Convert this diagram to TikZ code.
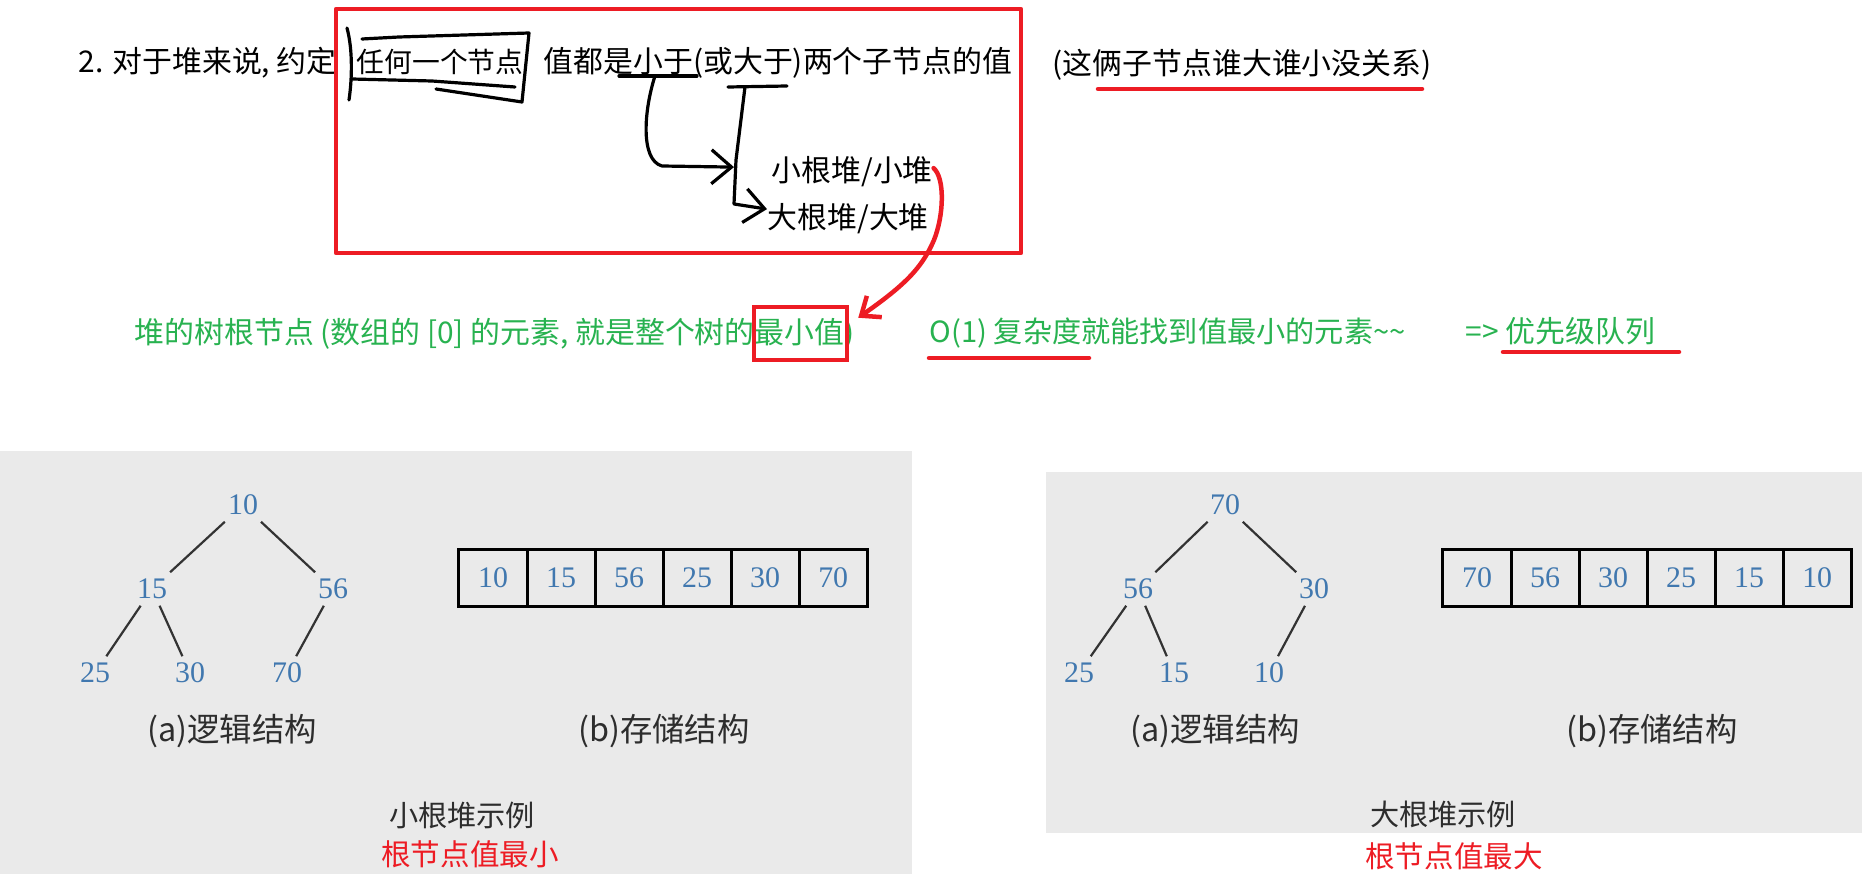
\documentclass[tikz,border=0pt]{standalone}
\usepackage{fontspec}
\setmainfont{Liberation Serif}
\newfontfamily\cjk{Noto Sans CJK SC}
\usetikzlibrary{positioning,arrows.meta}

\definecolor{penred}{RGB}{237,28,36}
\definecolor{notegreen}{RGB}{40,178,80}
\definecolor{panelgray}{RGB}{234,234,234}
\definecolor{numblue}{RGB}{65,120,175}
\definecolor{capgray}{RGB}{45,45,45}

\tikzset{
  txt/.style={font=\cjk\fontsize{8.5}{10}\selectfont, inner sep=0pt, anchor=base west},
  note/.style={txt, text=notegreen},
  pen/.style={penred, line width=0.045cm, line cap=round, line join=round},
  hand/.style={black, line width=0.032cm, line cap=round, line join=round},
  num/.style={text=numblue, font=\fontsize{8.5}{10}\selectfont, inner sep=0.06cm},
  cell/.style={num, draw=black, line width=0.03cm, minimum width=0.68cm, minimum height=0.57cm, outer sep=0pt, inner sep=0pt},
  edge/.style={draw=black!80, line width=0.022cm},
  subcap/.style={font=\cjk\fontsize{9.2}{11}\selectfont, text=capgray, inner sep=0pt},
  heapname/.style={font=\cjk\fontsize{8.3}{10}\selectfont, text=capgray, inner sep=0pt},
  redname/.style={font=\cjk\fontsize{8.4}{10}\selectfont, text=penred, inner sep=0pt}
}

\begin{document}
\begin{tikzpicture}[x=0.01cm,y=-0.01cm]
  \useasboundingbox (0,0) rectangle (1865,891);

  % 灰色底板
  \fill[panelgray] (0,451) rectangle (912,874);
  \fill[panelgray] (1046,472) rectangle (1862,833);

  % 第一行说明
  \node[txt] (rule) at (78,73) {2. 对于堆来说, 约定};
  \node[txt, font=\cjk\fontsize{7.9}{10}\selectfont] (anynode) at (356,73) {任何一个节点};
  \node[txt] (lessthan) at (543,73) {值都是小于(或大于)两个子节点的值};
  \node[txt] (noorder) at (1052,75) {(这俩子节点谁大谁小没关系)};
  \node[txt] (small) at (771,182) {小根堆/小堆};
  \node[txt] (big) at (767,229) {大根堆/大堆};

  % 手写的框和箭头
  \draw[hand] (347,28) .. controls (353,50) and (352,80) .. (349,100);
  \draw[hand] (362,39) -- (399,37) -- (529,33) -- (522,102) -- (436,89);
  \draw[hand] (352,79) -- (432,81) -- (515,87);
  \coordinate (xiaoyu) at (655,76);
  \coordinate (dayu) at (745,87);
  \draw[hand] (619,76) -- (697,76);
  \draw[hand] (728,87) -- (787,86);
  \draw[hand,-{Straight Barb[length=0.2cm,width=0.34cm]}] (xiaoyu) .. controls (644,110) and (640,160) .. (662,166) -- ([xshift=-0.37cm,yshift=0.05cm]small.west);
  \draw[hand,-{Straight Barb[length=0.2cm,width=0.34cm]}] (dayu) -- (736,160) -- (734,204) -- ([yshift=0.1cm]big.west);

  % 红框与下划线
  \draw[pen] (336,9) rectangle (1021,253);
  \draw[pen] (1098,89) -- (1422,89);

  % 绿色结论
  \node[note] (rootmin) at (134,344) {堆的树根节点 (数组的 [0] 的元素, 就是整个树的最小值)};
  \node[note, font=\cjk\fontsize{8.3}{10}\selectfont] (o1) at (929,343) {O(1) 复杂度就能找到值最小的元素\textasciitilde\textasciitilde};
  \node[note] (queue) at (1465,343) {=> 优先级队列};
  \node[draw=penred, line width=0.045cm, minimum width=0.93cm, minimum height=0.53cm, inner sep=0pt] (minbox) at (800.5,333.5) {};
  \draw[pen] (929,358) -- (1089,358);
  \draw[pen] (1503,352) -- (1679,352);
  \draw[pen,-{Straight Barb[length=0.16cm,width=0.26cm]}] ([yshift=0.04cm]small.east) .. controls (945,178) and (944,215) .. (934,240) .. controls (922,268) and (905,285) .. ([xshift=0.09cm,yshift=-0.13cm]minbox.north east);

  % 小根堆 逻辑结构
  \node[num] (a10) at (243,505) {10};
  \node[num] (a15) at (152,589) {15};
  \node[num] (a56) at (333,589) {56};
  \node[num] (a25) at (95,673) {25};
  \node[num] (a30) at (190,673) {30};
  \node[num] (a70) at (287,673) {70};
  \draw[edge] (a10) -- (a15);
  \draw[edge] (a10) -- (a56);
  \draw[edge] (a15) -- (a25);
  \draw[edge] (a15) -- (a30);
  \draw[edge] (a56) -- (a70);

  % 小根堆 存储结构
  \node[cell] (b1) at (493,578) {10};
  \node[cell, right=0pt of b1] (b2) {15};
  \node[cell, right=0pt of b2] (b3) {56};
  \node[cell, right=0pt of b3] (b4) {25};
  \node[cell, right=0pt of b4] (b5) {30};
  \node[cell, right=0pt of b5] (b6) {70};

  \node[subcap] (acapl) at (232,731) {(a)逻辑结构};
  \node[subcap] (bcapl) at (664,731) {(b)存储结构};
  \node[heapname] (minheap) at (462,815) {小根堆示例};
  \node[redname] (minnote) at (470,854) {根节点值最小};

  % 大根堆 逻辑结构
  \node[num] (c70) at (1225,505) {70};
  \node[num] (c56) at (1138,589) {56};
  \node[num] (c30) at (1314,589) {30};
  \node[num] (c25) at (1079,673) {25};
  \node[num] (c15) at (1174,673) {15};
  \node[num] (c10) at (1269,673) {10};
  \draw[edge] (c70) -- (c56);
  \draw[edge] (c70) -- (c30);
  \draw[edge] (c56) -- (c25);
  \draw[edge] (c56) -- (c15);
  \draw[edge] (c30) -- (c10);

  % 大根堆 存储结构
  \node[cell] (d1) at (1477,578) {70};
  \node[cell, right=0pt of d1] (d2) {56};
  \node[cell, right=0pt of d2] (d3) {30};
  \node[cell, right=0pt of d3] (d4) {25};
  \node[cell, right=0pt of d4] (d5) {15};
  \node[cell, right=0pt of d5] (d6) {10};

  \node[subcap] (acapr) at (1215,731) {(a)逻辑结构};
  \node[subcap] (bcapr) at (1652,731) {(b)存储结构};
  \node[heapname] (maxheap) at (1443,814) {大根堆示例};
  \node[redname] (maxnote) at (1454,856) {根节点值最大};
\end{tikzpicture}
\end{document}
